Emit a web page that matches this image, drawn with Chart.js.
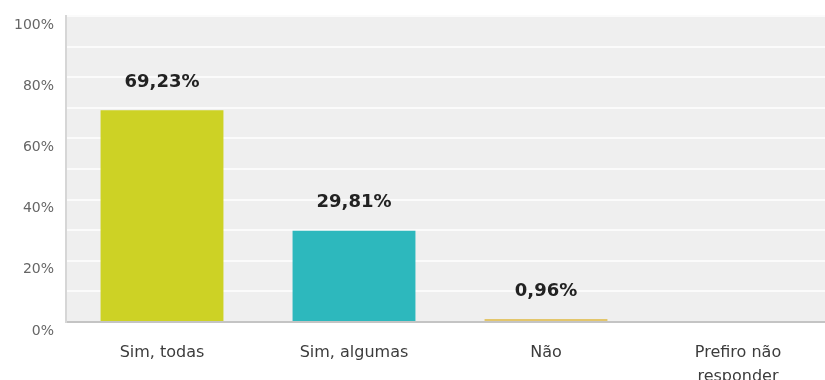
<!DOCTYPE html>
<html>
<head>
<meta charset="utf-8">
<script src="https://cdn.jsdelivr.net/npm/chart.js@4"></script>
<style>
  html, body { margin: 0; padding: 0; background: #fff; overflow: hidden; }
  #wrap { width: 834px; height: 380px; }
</style>
</head>
<body>
<div id="wrap"><canvas id="answersChart"></canvas></div>
<script>
const categories = ['Sim, todas', 'Sim, algumas', 'Não', ['Prefiro não', 'responder']];
const percentages = [69.23, 29.81, 0.96, 0];
const barColors = ['#cdd225', '#2db8bd', '#e3c66c', '#999999'];
const yTicks = [0, 20, 40, 60, 80, 100];

// grey plot background behind the bars
const plotBackground = {
  id: 'plotBackground',
  beforeDraw(chart) {
    const { ctx, chartArea: a } = chart;
    ctx.save();
    ctx.fillStyle = '#efefef';
    ctx.fillRect(a.left, a.top, a.right - a.left, a.bottom - a.top);
    ctx.restore();
  }
};

// percentage written above each non-empty bar
const valueLabels = {
  id: 'valueLabels',
  afterDatasetsDraw(chart) {
    const { ctx } = chart;
    const meta = chart.getDatasetMeta(0);
    ctx.save();
    ctx.font = 'bold 18px "DejaVu Sans"';
    ctx.fillStyle = '#222';
    ctx.textAlign = 'center';
    ctx.textBaseline = 'middle';
    meta.data.forEach((bar, i) => {
      const v = percentages[i];
      if (!v) return;
      ctx.fillText(v.toFixed(2).replace('.', ',') + '%', bar.x, bar.y - 28);
    });
    ctx.restore();
  }
};

new Chart(document.getElementById('answersChart'), {
  type: 'bar',
  data: {
    labels: categories,
    datasets: [{
      data: percentages,
      backgroundColor: barColors,
      borderWidth: 0,
      barPercentage: 0.64,
      categoryPercentage: 1
    }]
  },
  options: {
    responsive: true,
    maintainAspectRatio: false,
    animation: false,
    layout: { padding: { top: 16, right: 0, left: 0, bottom: 0 } },
    plugins: { legend: { display: false }, tooltip: { enabled: false } },
    scales: {
      x: {
        grid: { display: false, drawTicks: false },
        border: { color: '#c4c4c4', width: 2 },
        ticks: {
          color: '#3c3c3c',
          font: { family: 'DejaVu Sans', size: 16, lineHeight: 1.5 },
          padding: 19,
          maxRotation: 0
        },
        afterFit(scale) { scale.height = 58; }
      },
      y: {
        min: 0,
        max: 100,
        grid: { color: '#fbfbfb', lineWidth: 2, drawTicks: false },
        border: { color: '#d6d6d6', width: 2 },
        ticks: {
          stepSize: 10,
          color: '#666',
          font: { family: 'DejaVu Sans', size: 14 },
          padding: 12,
          labelOffset: 9,
          callback: v => yTicks.includes(v) ? v + '%' : ''
        },
        afterFit(scale) {
          scale.width = 66;
          // labels sit below their lines, so no room is needed above the top one
          scale.paddingTop = 0;
          scale.paddingBottom = 0;
        }
      }
    }
  },
  plugins: [plotBackground, valueLabels]
});
</script>
</body>
</html>
